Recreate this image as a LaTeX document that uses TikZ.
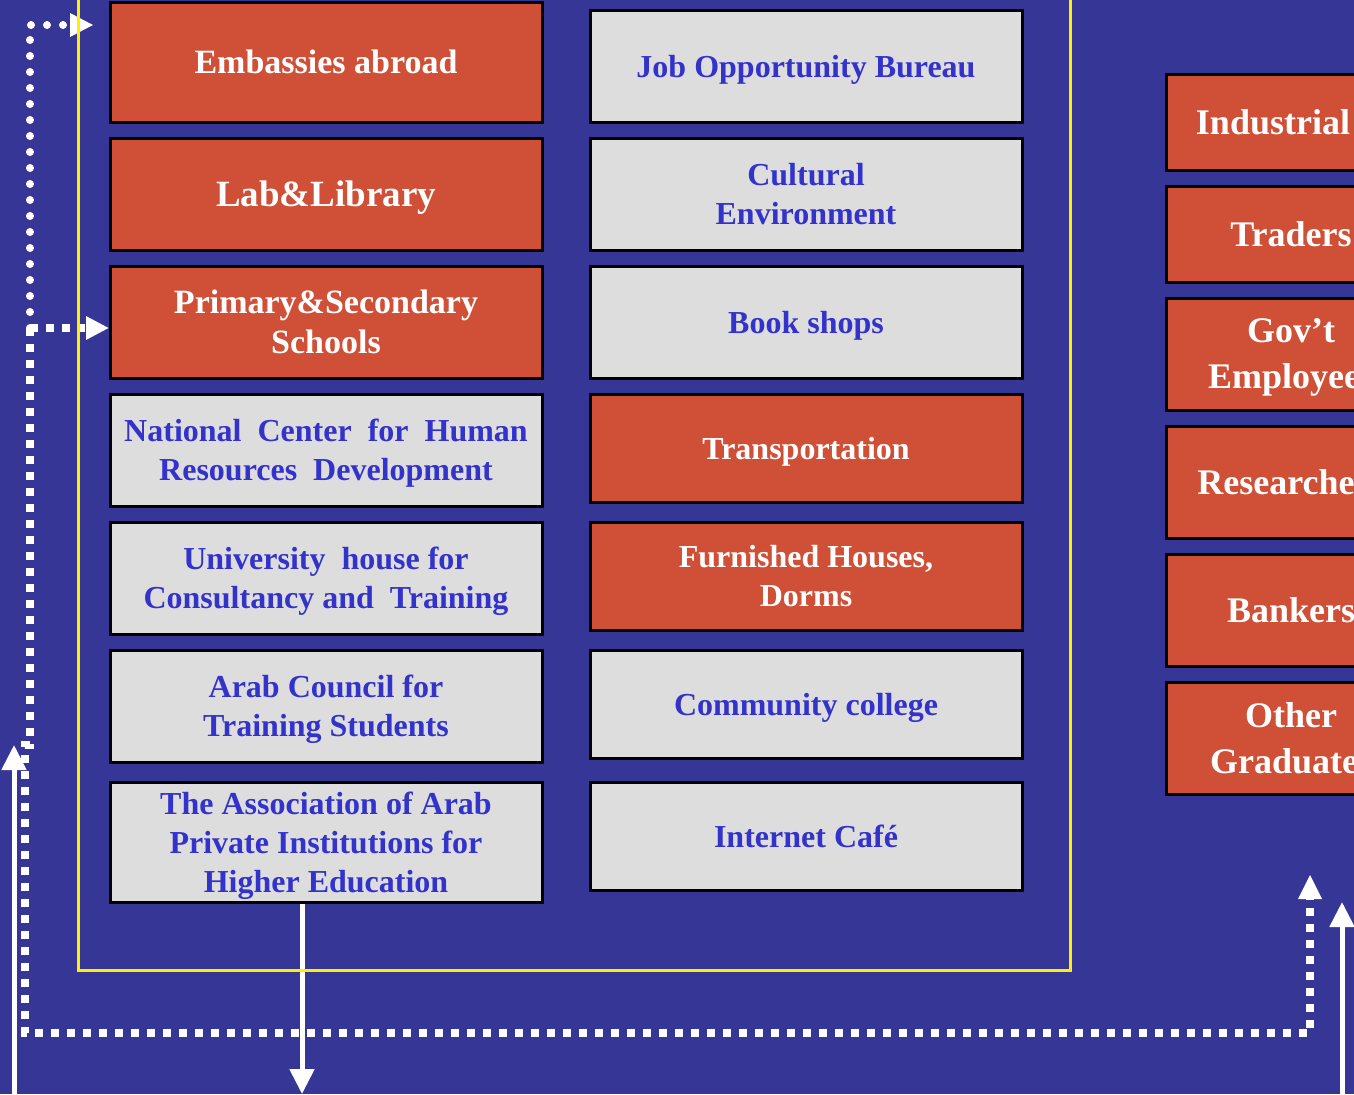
\documentclass[tikz,border=0pt]{standalone}
\usepackage{fontspec}
\setmainfont{Liberation Serif}
\usetikzlibrary{arrows.meta}
\definecolor{bg}{RGB}{54,54,150}
\definecolor{boxred}{RGB}{207,80,55}
\definecolor{boxgrey}{RGB}{221,221,221}
\definecolor{txtblue}{RGB}{51,51,204}
\definecolor{frameyellow}{RGB}{255,240,0}
\begin{document}
\begin{tikzpicture}[x=0.5pt,y=-0.5pt,
  box/.style={draw=black, line width=1.5pt, minimum width=216pt, align=center,
    inner sep=2pt, text depth=0pt, font=\bfseries\fontsize{16}{19.5}\selectfont},
  redbox/.style={box, fill=boxred, text=white},
  greybox/.style={box, fill=boxgrey, text=txtblue},
  sidebox/.style={redbox, minimum width=125pt, font=\bfseries\fontsize{18}{23}\selectfont},
  bigtext/.style={font=\bfseries\fontsize{17}{20}\selectfont},
  solidarrow/.style={draw=white, line width=2.5pt, -{Triangle[width=12pt,length=12.5pt]}},
  rounddots/.style={draw=white, line width=4pt, line cap=round, dash pattern=on 0pt off 8pt},
  squaredots/.style={draw=white, line width=4pt, line cap=butt, dash pattern=on 4pt off 4pt}
]
\useasboundingbox (0,0) rectangle (1354,1094);
\clip (0,0) rectangle (1354,1094);
\fill[bg] (0,0) rectangle (1354,1094);

% left column
\node[redbox, bigtext, minimum height=60pt] (emb) at (326,62) {Embassies abroad};
\node[redbox, minimum height=56pt, font=\bfseries\fontsize{18.5}{22}\selectfont] (lab) at (326,194) {Lab\&Library};
\node[redbox, bigtext, minimum height=56pt] (prim) at (326,322) {Primary\&Secondary\\Schools};
\node[greybox, minimum height=56pt] (nat) at (326,450) {National~ Center~ for~ Human\\Resources~ Development};
\node[greybox, minimum height=56pt] (univ) at (326,578) {University~ house for\\Consultancy and~ Training};
\node[greybox, minimum height=56pt] (arab) at (326,706) {Arab Council for\\Training Students};
\node[greybox, minimum height=60pt] (assoc) at (326,842) {The Association of Arab\\Private Institutions for\\Higher Education};

% middle column
\node[greybox, minimum height=56pt] (job) at (806,66) {Job Opportunity Bureau};
\node[greybox, minimum height=56pt] (cult) at (806,194) {Cultural\\Environment};
\node[greybox, minimum height=56pt] (book) at (806,322) {Book shops};
\node[redbox, minimum height=54pt] (trans) at (806,448) {Transportation};
\node[redbox, minimum height=54pt] (furn) at (806,576) {Furnished Houses,\\Dorms};
\node[greybox, minimum height=54pt] (comm) at (806,704) {Community college};
\node[greybox, minimum height=54pt] (inet) at (806,836) {Internet Café};

% right column
\node[sidebox, minimum height=48pt] (ind) at (1291,122) {Industrial\hspace*{18pt}};
\node[sidebox, minimum height=48pt] (trad) at (1291,234) {Traders};
\node[sidebox, minimum height=56pt] (gov) at (1291,354) {Gov’t\\Employees};
\node[sidebox, minimum height=56pt] (res) at (1291,482) {Researchers};
\node[sidebox, minimum height=56pt] (bank) at (1291,610) {Bankers};
\node[sidebox, minimum height=56pt] (oth) at (1291,738) {Other\\Graduates};

% connector coordinates
\coordinate (c1) at (30,328);
\coordinate (c2) at (30,25);
\coordinate (e1) at (70,25);
\coordinate (e1tip) at (93,25);
\coordinate (s1) at (30,745);
\coordinate (s2) at (25,745);
\coordinate (s3) at (25,1033);
\coordinate (s4) at (1310,1033);
\coordinate (e2) at (1310,899);
\coordinate (b1) at (14,1100);
\coordinate (b1e) at (14,745);
\coordinate (b2) at (302,1094);
\coordinate (b3) at (1342,1100);
\coordinate (b3e) at (1342,902);

% dotted connectors
\draw[rounddots] (c1) -- (c2) -- (e1);
\draw[squaredots] (c1) -- ([xshift=-12pt]prim.west |- c1);
\draw[squaredots] (c1) -- (s1) -- (s2) -- (s3) -- (s4) -- (e2);
\fill[white] (e1tip) -- (70,13) -- (70,37) -- cycle;
\fill[white] (prim.west |- c1) -- (86,316) -- (86,340) -- cycle;
\fill[white] (1310,875) -- (1298,899) -- (1322,899) -- cycle;

% solid connectors
\draw[solidarrow] (b1) -- (b1e);
\draw[solidarrow] (b2 |- assoc.south) -- (b2);
\draw[solidarrow] (b3) -- (b3e);

% yellow frame
\draw[frameyellow, line width=1.5pt] (78,-10) rectangle (1070,970);
\end{tikzpicture}
\end{document}
